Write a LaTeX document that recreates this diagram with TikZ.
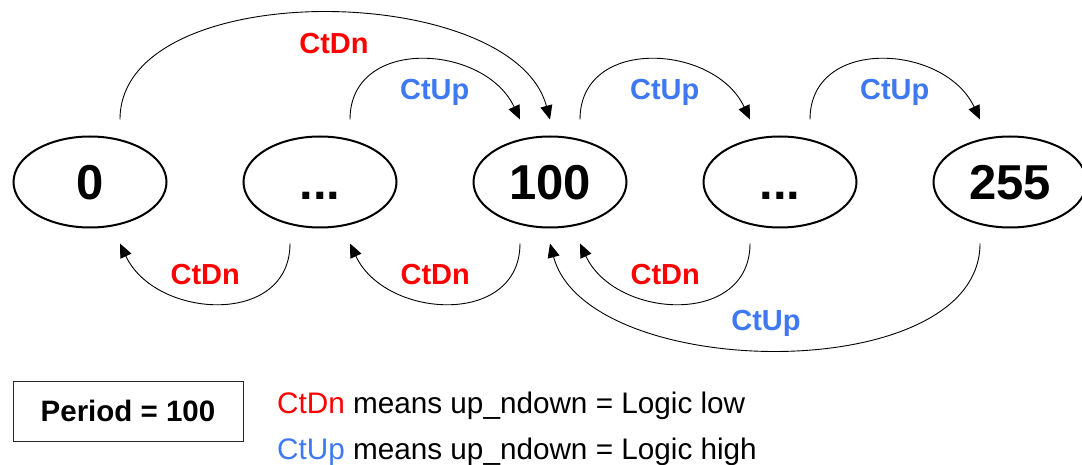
\documentclass[tikz,border=0pt]{standalone}
\usepackage{fontspec}
\setmainfont{Liberation Sans}
\usetikzlibrary{positioning,shapes.geometric,arrows.meta}

\definecolor{dnred}{RGB}{255,0,0}
\definecolor{upblue}{RGB}{62,120,242}

\begin{document}
\begin{tikzpicture}[x=1pt, y=1pt,
        state/.style={ellipse, draw=black, line width=2pt, minimum width=153pt, minimum height=91pt, inner sep=0pt, text height=35pt, text depth=0pt, font=\fontsize{49}{58}\selectfont\bfseries},
        trans/.style={draw=black, line width=0.9pt, -{Triangle[length=14pt, width=12pt]}},
        toplbl/.style={midway, anchor=base, xshift=13pt, yshift=-40pt, font=\fontsize{29}{35}\selectfont\bfseries},
        botlbl/.style={midway, anchor=base, xshift=-13pt, yshift=19pt, font=\fontsize{29}{35}\selectfont\bfseries},
        periodbox/.style={rectangle, draw=black!85, line width=1pt, minimum width=230pt, minimum height=60pt, font=\fontsize{29.5}{35}\selectfont\bfseries},
        legend/.style={inner sep=0pt, anchor=base west, font=\fontsize{29.7}{35}\selectfont},
    ]
    \useasboundingbox (0,0) rectangle (1082,464);

    \node[state] (n0) at (90,282) {0};
    \node[state] (d1) [right=75pt of n0] {...};
    \node[state] (n100) [right=75pt of d1] {100};
    \node[state] (d2) [right=75pt of n100] {...};
    \node[state] (n255) [right=75pt of d2] {255};

    % counting up / down above
    \path[trans] ([shift={(30,16)}]n0.north) to[out=90, in=105, looseness=0.86] node[toplbl, text=dnred] {CtDn} ([yshift=16]n100.north);
    \path[trans] ([shift={(30,16)}]d1.north) to[out=90, in=115, looseness=1.26] node[toplbl, text=upblue] {CtUp} ([shift={(-30,16)}]n100.north);
    \path[trans] ([shift={(30,16)}]n100.north) to[out=90, in=115, looseness=1.26] node[toplbl, text=upblue] {CtUp} ([shift={(-30,16)}]d2.north);
    \path[trans] ([shift={(30,16)}]d2.north) to[out=90, in=115, looseness=1.26] node[toplbl, text=upblue] {CtUp} ([shift={(-30,16)}]n255.north);

    % below
    \path[trans] ([shift={(-30,-15)}]d1.south) to[out=-90, in=-65, looseness=1.26] node[botlbl, text=dnred] {CtDn} ([shift={(30,-15)}]n0.south);
    \path[trans] ([shift={(-30,-15)}]n100.south) to[out=-90, in=-65, looseness=1.26] node[botlbl, text=dnred] {CtDn} ([shift={(30,-15)}]d1.south);
    \path[trans] ([shift={(-30,-15)}]d2.south) to[out=-90, in=-65, looseness=1.26] node[botlbl, text=dnred] {CtDn} ([shift={(30,-15)}]n100.south);
    \path[trans] ([shift={(-30,-15)}]n255.south) to[out=-90, in=-75, looseness=0.86] node[botlbl, text=upblue] {CtUp} ([yshift=-15]n100.south);

    % legend
    \node[periodbox] (period) at (128,53) {Period = 100};
    \node[legend] (legDn) at (277,51) {\textcolor{dnred}{CtDn} means up\_ndown = Logic low};
    \node[legend] (legUp) at (277,5) {\textcolor{upblue}{CtUp} means up\_ndown = Logic high};
\end{tikzpicture}
\end{document}
